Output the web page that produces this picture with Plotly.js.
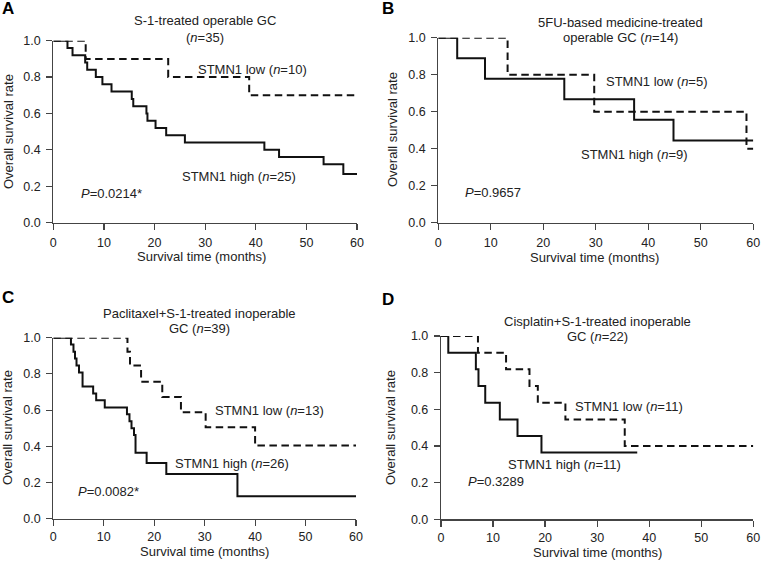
<!DOCTYPE html>
<html>
<head>
<meta charset="utf-8">
<script src="https://cdn.plot.ly/plotly-3.0.1.min.js"></script>
<style>
  html, body { margin: 0; padding: 0; background: #fff; }
  #chart { width: 761px; height: 565px; }
</style>
</head>
<body>
<div id="chart"></div>
<script>
// Kaplan-Meier curves, STMN1 high (solid) vs low (dashed), 4 cohorts
// event times in months, survival after each step

// A: S-1-treated operable GC
var aHighT = [2.8, 3.8, 6.3, 6.7, 8.4, 9.7, 11.5, 15.5, 15.8, 18.4, 18.6, 20.2, 22.3, 26.0, 41.7, 44.6, 53.4, 57.3];
var aHighS = [0.96, 0.92, 0.88, 0.84, 0.80, 0.76, 0.72, 0.68, 0.64, 0.60, 0.56, 0.52, 0.48, 0.44, 0.40, 0.36, 0.32, 0.267];
var aHighEnd = 60;
var aLowT = [6.4, 22.7, 38.7];
var aLowS = [0.9, 0.8, 0.7];
var aLowEnd = 60;

// B: 5FU-based medicine-treated operable GC
var bHighT = [3.6, 8.9, 24.0, 37.3, 44.8];
var bHighS = [0.889, 0.778, 0.667, 0.556, 0.444];
var bHighEnd = 60;
var bLowT = [13.2, 29.7, 58.7];
var bLowS = [0.8, 0.6, 0.4];
var bLowEnd = 60;

// C: Paclitaxel+S-1-treated inoperable GC
var cHighT = [3.5, 4.0, 4.3, 4.6, 5.1, 5.8, 7.9, 8.5, 10.2, 14.6, 15.1, 15.5, 16.0, 16.3, 18.5, 22.4, 36.5];
var cHighS = [0.962, 0.923, 0.885, 0.846, 0.808, 0.731, 0.692, 0.654, 0.615, 0.577, 0.538, 0.500, 0.462, 0.365, 0.308, 0.247, 0.124];
var cHighEnd = 60;
var cLowT = [14.7, 15.2, 17.4, 21.6, 25.3, 30.2, 40.0];
var cLowS = [0.923, 0.846, 0.757, 0.673, 0.588, 0.505, 0.404];
var cLowEnd = 60;

// D: Cisplatin+S-1-treated inoperable GC
var dHighT = [1.4, 6.7, 7.2, 8.5, 11.3, 14.7, 19.3];
var dHighS = [0.909, 0.818, 0.727, 0.636, 0.545, 0.455, 0.364];
var dHighEnd = 37.7;
var dLowT = [7.1, 12.5, 17.0, 18.6, 23.9, 35.3];
var dLowS = [0.909, 0.818, 0.727, 0.636, 0.545, 0.40];
var dLowEnd = 60;

var xTicks = [0, 10, 20, 30, 40, 50, 60];
var yTicks = [0, 0.2, 0.4, 0.6, 0.8, 1.0];

var W = 761, H = 565;
var FONT = 'Liberation Sans, Arial, Helvetica, sans-serif';
function px(x) { return x / W; }
function py(y) { return 1 - y / H; }

function km(t, s, end, dashed, xa, ya) {
  return {
    type: 'scatter', mode: 'lines',
    x: [0].concat(t, [end]),
    y: [1].concat(s, [s[s.length - 1]]),
    xaxis: xa, yaxis: ya,
    line: { shape: 'hv', color: '#111', width: 2, dash: dashed ? '7.5px,4.5px' : 'solid' },
    hoverinfo: 'x+y', showlegend: false
  };
}

var data = [
  km(aHighT, aHighS, aHighEnd, false, 'x', 'y'),
  km(aLowT, aLowS, aLowEnd, true, 'x', 'y'),
  km(bHighT, bHighS, bHighEnd, false, 'x2', 'y2'),
  km(bLowT, bLowS, bLowEnd, true, 'x2', 'y2'),
  km(cHighT, cHighS, cHighEnd, false, 'x3', 'y3'),
  km(cLowT, cLowS, cLowEnd, true, 'x3', 'y3'),
  km(dHighT, dHighS, dHighEnd, false, 'x4', 'y4'),
  km(dLowT, dLowS, dLowEnd, true, 'x4', 'y4')
];

function xax(l, r, anchor, standoff) {
  return {
    domain: [px(l), px(r)], anchor: anchor, range: [0, 60],
    tickvals: xTicks, ticks: 'outside', ticklen: 6, tickcolor: '#444', tickwidth: 1.2,
    ticklabelstandoff: standoff,
    showline: true, linecolor: '#444', linewidth: 1.2,
    showgrid: false, zeroline: false, fixedrange: true,
    tickfont: { family: FONT, size: 12.5, color: '#222' }
  };
}
function yax(top, bottom, anchor) {
  return {
    domain: [py(bottom), py(top)], anchor: anchor, range: [0, 1],
    tickvals: yTicks, tickformat: '.1f', ticks: 'outside', ticklen: 6, tickcolor: '#444', tickwidth: 1.2,
    ticklabelstandoff: 3,
    showline: true, linecolor: '#444', linewidth: 1.2,
    showgrid: false, zeroline: false, fixedrange: true,
    tickfont: { family: FONT, size: 12.5, color: '#222' }
  };
}

function note(text, x, y, opts) {
  var a = {
    text: text, x: px(x), y: py(y), xref: 'paper', yref: 'paper',
    showarrow: false, xanchor: 'center', yanchor: 'middle',
    font: { family: FONT, size: 13, color: '#222' }
  };
  for (var k in opts) a[k] = opts[k];
  return a;
}

var ann = [
  // panel letters
  note('<b>A</b>', 8, 9, { font: { family: FONT, size: 17, color: '#000' } }),
  note('<b>B</b>', 388, 9, { font: { family: FONT, size: 17, color: '#000' } }),
  note('<b>C</b>', 8, 297, { font: { family: FONT, size: 17, color: '#000' } }),
  note('<b>D</b>', 388, 299, { font: { family: FONT, size: 17, color: '#000' } }),
  // titles
  note('S-1-treated operable GC', 205, 20.5),
  note('(<i>n</i>=35)', 205, 38),
  note('5FU-based medicine-treated', 620, 22.5),
  note('operable GC (<i>n</i>=14)', 620, 38),
  note('Paclitaxel+S-1-treated inoperable', 199, 313.5),
  note('GC (<i>n</i>=39)', 199, 328.5),
  note('Cisplatin+S-1-treated inoperable', 597, 321.5),
  note('GC (<i>n</i>=22)', 597, 336.5),
  // axis titles
  note('Survival time (months)', 202, 256),
  note('Survival time (months)', 594, 257),
  note('Survival time (months)', 204, 551.5),
  note('Survival time (months)', 597, 552),
  note('Overall survival rate', 8, 132, { textangle: -90 }),
  note('Overall survival rate', 392, 130, { textangle: -90 }),
  note('Overall survival rate', 7, 428, { textangle: -90 }),
  note('Overall survival rate', 390, 428, { textangle: -90 }),
  // curve labels
  note('STMN1 low (<i>n</i>=10)', 196, 70, { xanchor: 'left' }),
  note('STMN1 high (<i>n</i>=25)', 180, 176.5, { xanchor: 'left' }),
  note('<i>P</i>=0.0214*', 79, 193.5, { xanchor: 'left' }),
  note('STMN1 low (<i>n</i>=5)', 604, 81.5, { xanchor: 'left' }),
  note('STMN1 high (<i>n</i>=9)', 579, 154, { xanchor: 'left' }),
  note('<i>P</i>=0.9657', 463, 192.5, { xanchor: 'left' }),
  note('STMN1 low (<i>n</i>=13)', 213, 410, { xanchor: 'left' }),
  note('STMN1 high (<i>n</i>=26)', 173, 463.5, { xanchor: 'left' }),
  note('<i>P</i>=0.0082*', 76, 491.5, { xanchor: 'left' }),
  note('STMN1 low (<i>n</i>=11)', 573, 406.5, { xanchor: 'left' }),
  note('STMN1 high (<i>n</i>=11)', 506, 464.5, { xanchor: 'left' }),
  note('<i>P</i>=0.3289', 466, 481.5, { xanchor: 'left' })
];

var layout = {
  width: W, height: H,
  margin: { l: 0, r: 0, t: 0, b: 0 },
  paper_bgcolor: '#fff', plot_bgcolor: '#fff',
  font: { family: FONT, size: 13, color: '#222' },
  showlegend: false,
  xaxis: xax(53.3, 357, 'y', 2),
  yaxis: yax(40.7, 222.5, 'x'),
  xaxis2: xax(438.3, 753.3, 'y2', 2),
  yaxis2: yax(37.7, 222.7, 'x2'),
  xaxis3: xax(53.3, 356, 'y3', 0),
  yaxis3: yax(337.7, 518.7, 'x3'),
  xaxis4: xax(441, 753.3, 'y4', 0),
  yaxis4: yax(336, 519.3, 'x4'),
  annotations: ann
};

Plotly.newPlot('chart', data, layout, { displayModeBar: false, staticPlot: true });
</script>
</body>
</html>
